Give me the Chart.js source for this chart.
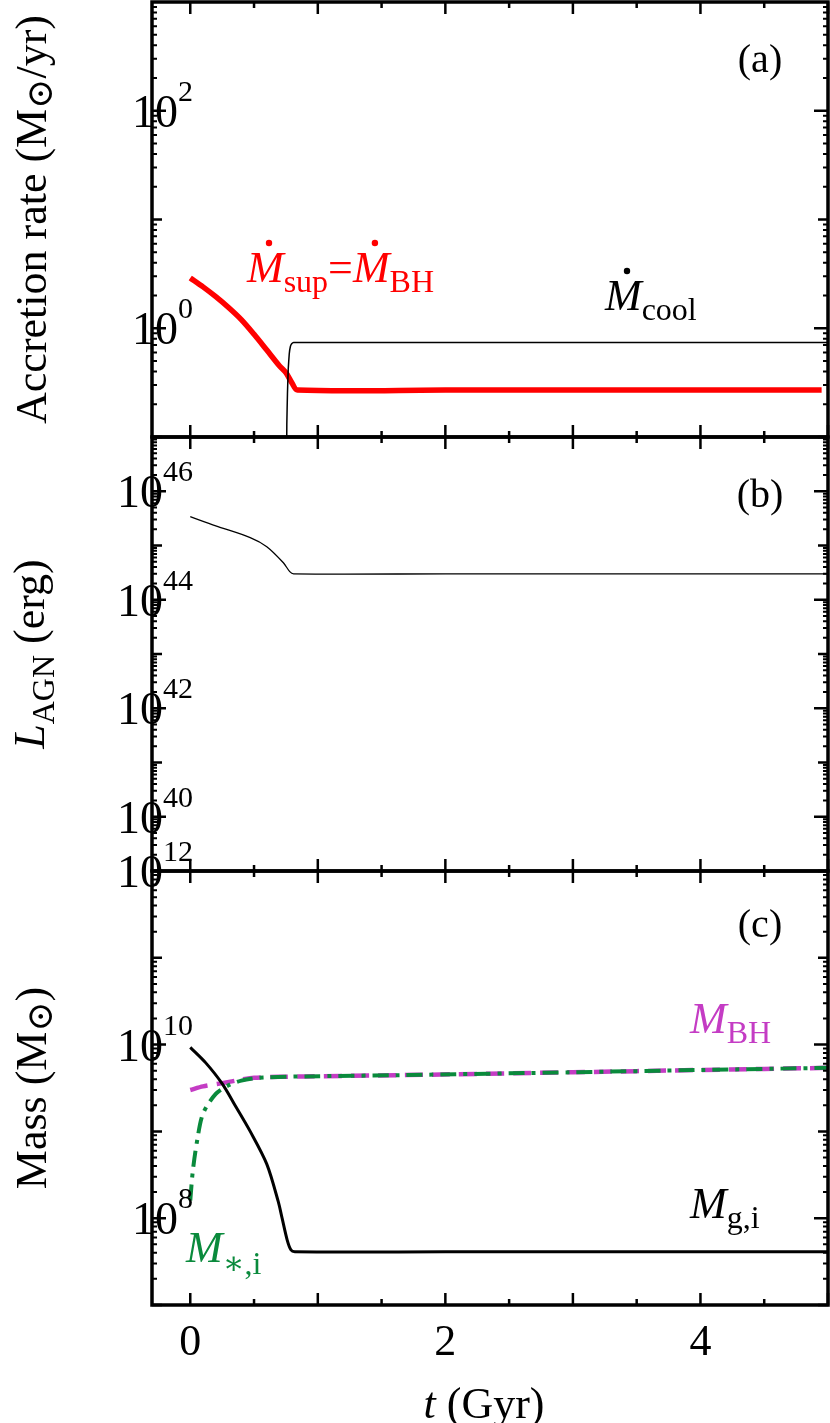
<!DOCTYPE html>
<html>
<head>
<meta charset="utf-8">
<script src="https://cdn.jsdelivr.net/npm/chart.js@4.4.1/dist/chart.umd.min.js"></script>
<style>
  body { margin: 0; background: #fff; }
  #wrap { position: relative; width: 830px; height: 1423px; }
  canvas { position: absolute; left: 0; top: 0; }
</style>
</head>
<body>
<div id="wrap">
  <canvas id="ca" width="830" height="1423"></canvas>
  <canvas id="cb" width="830" height="1423"></canvas>
  <canvas id="cc" width="830" height="1423"></canvas>
</div>
<script>
// panel (a): accretion rates
const tSup = [0, 0.1, 0.2, 0.3, 0.4, 0.5, 0.6, 0.7, 0.75, 0.8, 0.84, 2, 3, 4, 4.95];
const mSup = [2.9, 2.4, 1.95, 1.55, 1.2, 0.88, 0.63, 0.45, 0.39, 0.31, 0.27, 0.27, 0.27, 0.27, 0.27];
const tCool = [0.755, 0.757, 0.762, 0.768, 0.776, 0.785, 0.795, 0.81, 2, 3, 4, 5];
const mCool = [0.05, 0.13, 0.25, 0.42, 0.58, 0.68, 0.72, 0.74, 0.74, 0.74, 0.74, 0.74];

// panel (b): AGN luminosity
const tAgn = [0, 0.2, 0.47, 0.6, 0.73, 0.78, 0.81, 2, 3, 4, 5];
const lAgn = [3.4e45, 2.3e45, 1.4e45, 9.5e44, 4.8e44, 3.3e44, 3.0e44, 3.0e44, 3.0e44, 3.0e44, 3.0e44];

// panel (c): masses
const tGas = [0, 0.12, 0.25, 0.36, 0.47, 0.6, 0.69, 0.72, 0.76, 0.79, 0.82, 2, 3, 4, 5];
const mGas = [9.3e9, 6.2e9, 3.55e9, 1.9e9, 1.0e9, 4.2e8, 1.55e8, 1.0e8, 5.6e7, 4.3e7, 4.1e7, 4.1e7, 4.1e7, 4.1e7, 4.1e7];
const tBH = [0, 0.1, 0.25, 0.4, 0.5, 0.7, 0.9, 1.65, 3, 4, 5];
const mBH = [3.0e9, 3.3e9, 3.6e9, 3.95e9, 4.15e9, 4.25e9, 4.3e9, 4.45e9, 4.8e9, 5.1e9, 5.4e9];
const tStar = [0, 0.02, 0.055, 0.1, 0.2, 0.3, 0.4, 0.5, 0.6, 0.9, 1.65, 3, 4, 5];
const mStar = [1.6e8, 3.5e8, 8e8, 1.6e9, 2.7e9, 3.4e9, 3.85e9, 4.1e9, 4.2e9, 4.3e9, 4.45e9, 4.8e9, 5.1e9, 5.4e9];

const xTicksMajor = [0, 1, 2, 3, 4, 5];
const xTickLabels = ["0", "2", "4"];

const SERIF = '"Liberation Serif", "DejaVu Serif", serif';
const W = 1423;

function pts(t, v) { return t.map((x, i) => ({ x: x, y: v[i] })); }

function drawRich(ctx, x, y, parts, align) {
  // parts: [text, fontSize, dy, italic, color]
  let total = 0;
  parts.forEach(p => {
    ctx.font = (p[3] ? "italic " : "") + p[1] + "px " + SERIF;
    total += ctx.measureText(p[0]).width;
  });
  let cx = align === "center" ? x - total / 2 : (align === "right" ? x - total : x);
  const out = [];
  parts.forEach(p => {
    ctx.font = (p[3] ? "italic " : "") + p[1] + "px " + SERIF;
    ctx.fillStyle = p[4] || "#000";
    ctx.textBaseline = "alphabetic";
    ctx.textAlign = "left";
    ctx.fillText(p[0], cx, y + p[2]);
    const w = ctx.measureText(p[0]).width;
    out.push({ x: cx, w: w });
    cx += w;
  });
  return out;
}

function dotOver(ctx, seg, y, color) {
  ctx.fillStyle = color;
  ctx.beginPath();
  ctx.arc(seg.x + seg.w * 0.6, y, 3.2, 0, Math.PI * 2);
  ctx.fill();
}

function frame(cfg) {
  return {
    id: "frame" + cfg.id,
    afterDraw(chart) {
      const ctx = chart.ctx;
      const a = chart.chartArea;
      const xs = chart.scales.x, ys = chart.scales.y;
      ctx.save();
      ctx.strokeStyle = "#000";
      ctx.fillStyle = "#000";
      // x ticks top and bottom
      ctx.lineWidth = 2.5;
      for (let v = 0; v <= 5.001; v += 0.5) {
        const px = xs.getPixelForValue(v);
        const len = Math.abs(v - Math.round(v)) < 1e-6 ? 12 : 6;
        ctx.beginPath();
        ctx.moveTo(px, a.bottom); ctx.lineTo(px, a.bottom - len);
        ctx.moveTo(px, a.top); ctx.lineTo(px, a.top + len);
        ctx.stroke();
      }
      // y ticks left and right
      for (let e = cfg.emin; e < cfg.emax; e++) {
        for (let m = 1; m <= 9; m++) {
          const v = m * Math.pow(10, e);
          if (v < ys.min * 0.999 || v > ys.max * 1.001) continue;
          const py = ys.getPixelForValue(v);
          let len = 5;
          ctx.lineWidth = 2;
          if (m === 1) { len = (e % 2 === 0) ? 14 : 10; ctx.lineWidth = 2.5; }
          ctx.beginPath();
          ctx.moveTo(a.left, py); ctx.lineTo(a.left + len, py);
          ctx.moveTo(a.right, py); ctx.lineTo(a.right - len, py);
          ctx.stroke();
        }
      }
      // border
      ctx.lineWidth = 3.5;
      ctx.strokeRect(a.left, a.top, a.right - a.left, a.bottom - a.top);
      // y tick labels
      cfg.yLabels.forEach(e => {
        const py = ys.getPixelForValue(Math.pow(10, e));
        const sup = String(e);
        ctx.font = "30px " + SERIF;
        const sw = ctx.measureText(sup).width;
        drawRich(ctx, 147 - sw, py + 16, [["10", 46, 0], [sup, 30, -26]], "left");
      });
      // panel label
      drawRich(ctx, 760, a.top + cfg.labelY, [[cfg.label, 40, 0]], "center");
      // axis title
      ctx.save();
      ctx.translate(cfg.titleX, (a.top + a.bottom) / 2 + cfg.titleDy);
      ctx.rotate(-Math.PI / 2);
      drawRich(ctx, 0, 0, cfg.title, "center");
      ctx.restore();
      if (cfg.extra) cfg.extra(ctx, chart);
      ctx.restore();
    }
  };
}

function makeChart(id, padTop, padBottom, yMin, yMax, datasets, cfg) {
  return new Chart(document.getElementById(id), {
    type: "line",
    data: { datasets: datasets },
    options: {
      responsive: false,
      animation: false,
      devicePixelRatio: 1,
      layout: { padding: { left: 152, right: 2, top: padTop, bottom: padBottom } },
      plugins: { legend: { display: false }, tooltip: { enabled: false } },
      elements: { point: { radius: 0 }, line: { tension: 0.3 } },
      scales: {
        x: { type: "linear", min: -0.3, max: 5.0, display: false },
        y: { type: "logarithmic", min: yMin, max: yMax, display: false }
      }
    },
    plugins: [frame(cfg)]
  });
}

// panel (a)
makeChart("ca", 2, W - 437, 0.1, 1000, [
  { data: pts(tCool, mCool), borderColor: "#000", borderWidth: 1.5, tension: 0.1 },
  { data: pts(tSup, mSup), borderColor: "#ff0000", borderWidth: 5.5 }
], {
  id: "a", emin: -1, emax: 3, yLabels: [0, 2], label: "(a)", labelY: 70,
  titleX: 46, titleDy: 0,
  title: [["Accretion rate (M", 44, 0], ["⊙", 36, 6], ["/yr)", 44, 0]],
  extra(ctx) {
    const s1 = drawRich(ctx, 247, 282, [["M", 44, 0, true, "#ff0000"], ["sup", 32, 10, false, "#ff0000"],
      ["=", 44, 0, false, "#ff0000"], ["M", 44, 0, true, "#ff0000"], ["BH", 32, 10, false, "#ff0000"]], "left");
    dotOver(ctx, s1[0], 243, "#ff0000");
    dotOver(ctx, s1[3], 243, "#ff0000");
    const s2 = drawRich(ctx, 605, 310, [["M", 44, 0, true], ["cool", 32, 10, false]], "left");
    dotOver(ctx, s2[0], 271, "#000");
  }
});

// panel (b)
makeChart("cb", 437, W - 871, 1e39, 1e47, [
  { data: pts(tAgn, lAgn), borderColor: "#000", borderWidth: 1.3 }
], {
  id: "b", emin: 39, emax: 47, yLabels: [40, 42, 44, 46], label: "(b)", labelY: 70,
  titleX: 44, titleDy: 0,
  title: [["L", 44, 0, true], ["AGN", 32, 10], [" (erg)", 44, 0]]
});

// panel (c)
makeChart("cc", 871, W - 1305, 1e7, 1e12, [
  { data: pts(tGas, mGas), borderColor: "#000", borderWidth: 3 },
  { data: pts(tStar, mStar), borderColor: "#0a8a3c", borderWidth: 4, borderDash: [16, 7, 4, 7] },
  { data: pts(tBH, mBH), borderColor: "#c43cc4", borderWidth: 4.5, borderDash: [18, 9] }
], {
  id: "c", emin: 7, emax: 12, yLabels: [8, 10, 12], label: "(c)", labelY: 66,
  titleX: 46, titleDy: 0,
  title: [["Mass (M", 44, 0], ["⊙", 36, 6], [")", 44, 0]],
  extra(ctx, chart) {
    drawRich(ctx, 690, 1033, [["M", 44, 0, true, "#c43cc4"], ["BH", 32, 10, false, "#c43cc4"]], "left");
    drawRich(ctx, 690, 1218, [["M", 44, 0, true], ["g,i", 32, 10, false]], "left");
    drawRich(ctx, 186, 1262, [["M", 44, 0, true, "#0a8a3c"], ["∗,i", 32, 12, false, "#0a8a3c"]], "left");
    // x tick labels and title
    const xs = chart.scales.x;
    [0, 2, 4].forEach((v, i) => {
      drawRich(ctx, xs.getPixelForValue(v), 1355, [[xTickLabels[i], 44, 0]], "center");
    });
    drawRich(ctx, 484, 1418, [["t", 44, 0, true], [" (Gyr)", 44, 0]], "center");
  }
});
</script>
</body>
</html>
